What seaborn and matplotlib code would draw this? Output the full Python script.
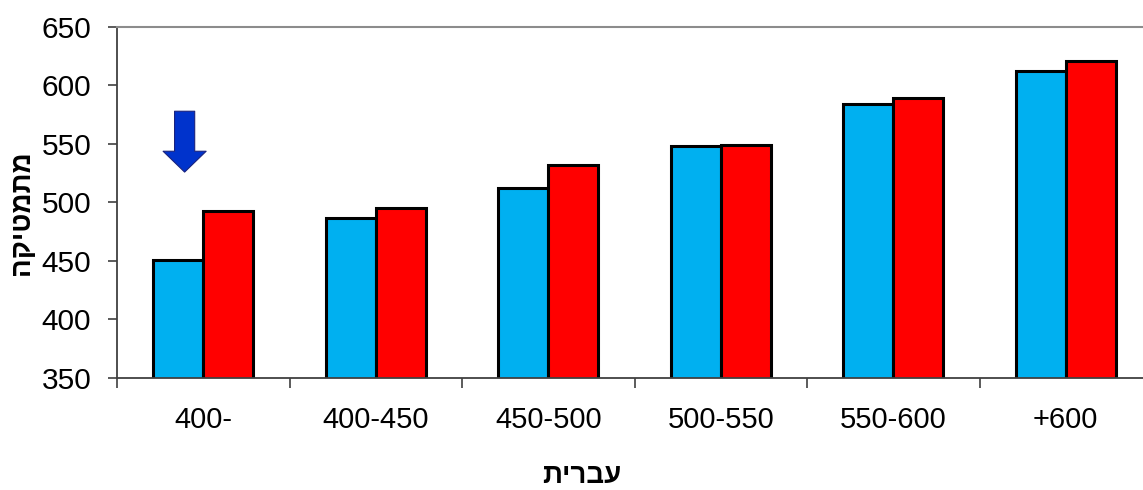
import matplotlib
matplotlib.use("Agg")
import matplotlib.pyplot as plt
import seaborn as sns
import pandas as pd
import numpy as np

# ---- data ----
categories = ["400-", "400-450", "450-500", "500-550", "550-600", "+600"]
series_names = ["A", "B"]
blue_values = [451, 487, 512, 548, 584, 612]
red_values = [493, 495, 532, 549, 589, 621]
y_ticks = [350, 400, 450, 500, 550, 600, 650]
x_label = "עברית"
y_label = "מתמטיקה"

df = pd.DataFrame({
    "cat": categories * 2,
    "series": [series_names[0]] * len(categories) + [series_names[1]] * len(categories),
    "value": blue_values + red_values,
})

sns.set_theme(style="white")
plt.rcParams["font.family"] = ["Liberation Sans", "DejaVu Sans"]
plt.rcParams["text.color"] = "black"
plt.rcParams["xtick.color"] = "black"
plt.rcParams["ytick.color"] = "black"

fig = plt.figure(figsize=(11.43, 4.90), dpi=100)
ax = fig.add_axes([117 / 1143, 1 - 378 / 490, 1035 / 1143, 351 / 490])

sns.barplot(data=df, x="cat", y="value", hue="series", order=categories,
            hue_order=series_names, palette=["#00B0F0", "#FF0000"], saturation=1,
            width=0.58, edgecolor="black", linewidth=2.2, legend=False, ax=ax,
            errorbar=None)

ax.set_ylim(350, 650)
ax.set_xlim(-0.5, len(categories) - 0.5)
ax.set_yticks(y_ticks)
ax.set_yticklabels([str(v) for v in y_ticks], fontsize=21.5)

# ticks between categories
ax.set_xticks(np.arange(len(categories)))
ax.set_xticklabels(categories, fontsize=21)
ax.set_xticks(np.arange(len(categories)) - 0.5, minor=True)
ax.tick_params(axis="x", which="major", length=0, pad=20, labelcolor="black")
ax.tick_params(axis="x", which="minor", length=7, width=1.2, color="#404040", direction="out", bottom=True)
ax.tick_params(axis="y", which="major", length=6.5, width=1.2, color="#404040", direction="out",
               left=True, pad=12, labelcolor="black")

for s in ["left", "bottom"]:
    ax.spines[s].set_color("#404040")
    ax.spines[s].set_linewidth(1.3)
ax.spines["top"].set_color("#8c8c8c")
ax.spines["top"].set_linewidth(1.5)
ax.spines["right"].set_visible(False)

ax.set_xlabel("")
ax.set_ylabel("")
fig.text(22 / 1143, 1 - 213 / 490, y_label[::-1], rotation=90, fontsize=20,
         fontweight="bold", ha="center", va="center", color="black",
         family=["Liberation Sans", "DejaVu Sans"])
fig.text(582 / 1143, 1 - 476 / 490, x_label[::-1], fontsize=20,
         fontweight="bold", ha="center", va="center", color="black",
         family=["Liberation Sans", "DejaVu Sans"])

# blue arrow annotation
ax.annotate("", xy=(-0.108, 526), xytext=(-0.108, 578),
            arrowprops=dict(arrowstyle="simple,head_length=1.5,head_width=3.1,tail_width=1.45",
                            mutation_scale=10, fc="#0033CC", ec="#1a237e", lw=0.8,
                            shrinkA=0, shrinkB=0))

fig.savefig("out.png", dpi=100)
